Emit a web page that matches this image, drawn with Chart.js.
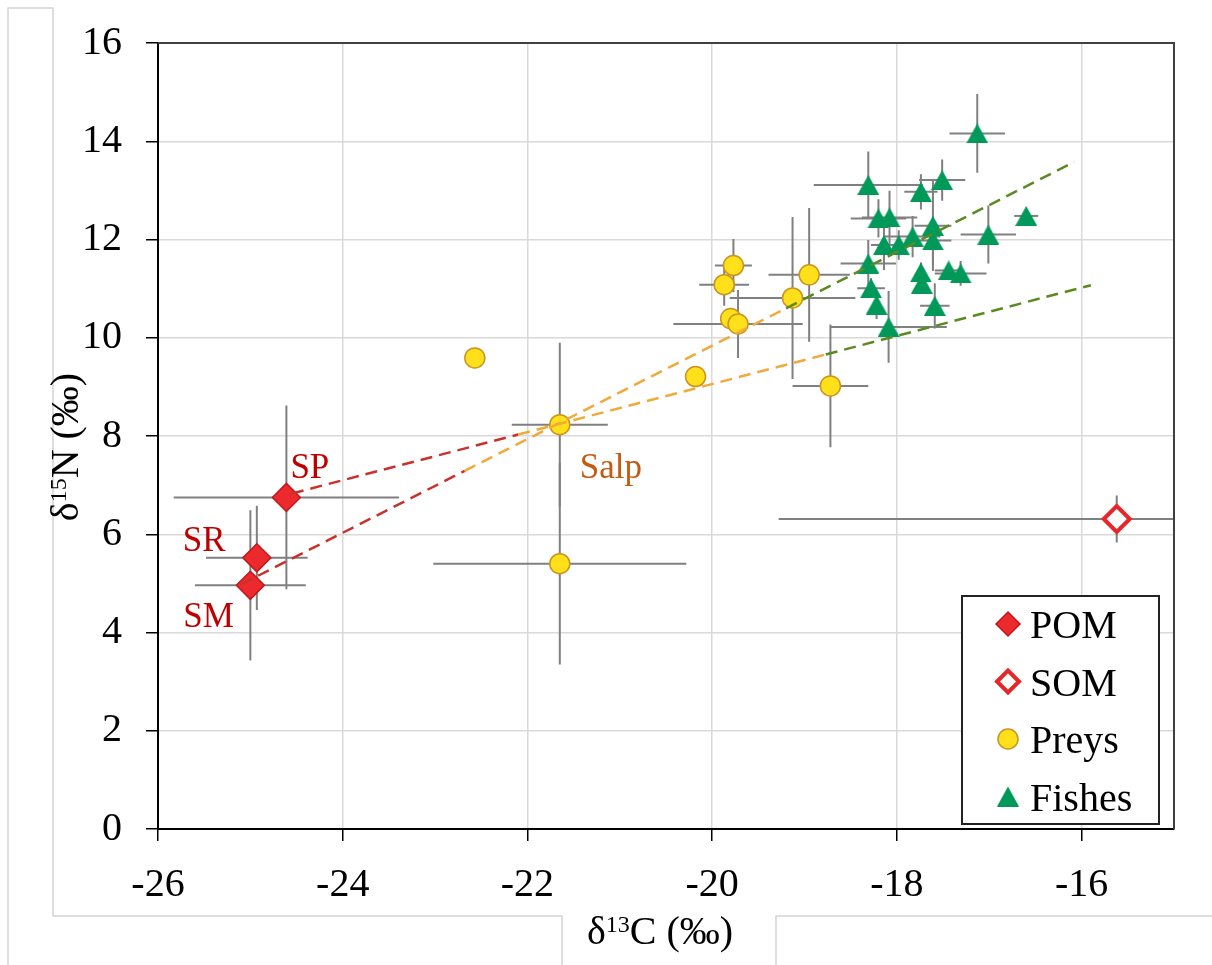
<!DOCTYPE html>
<html>
<head>
<meta charset="utf-8">
<title>δ13C / δ15N</title>
<script src="https://cdn.jsdelivr.net/npm/chart.js"></script>
<style>
  html, body { margin: 0; padding: 0; background: #fff; }
  #wrap { position: relative; width: 1212px; height: 965px; }
</style>
</head>
<body>
<div id="wrap"><canvas id="myChart"></canvas></div>
<script>
// axis ticks
const xTicks = [-26, -24, -22, -20, -18, -16];
const yTicks = [0, 2, 4, 6, 8, 10, 12, 14, 16];

// POM (SP, SR, SM)
const pomNames = ['SP', 'SR', 'SM'];
const pomX = [-24.61, -24.93, -25.00];
const pomY = [6.75, 5.52, 4.96];
const pomXErr = [1.22, 0.55, 0.60];
const pomYErr = [1.87, 1.06, 1.53];

// SOM
const somX = [-15.62];
const somY = [6.31];
const somXErr = [3.66];
const somYErr = [0.48];

// Preys (second one is Salp)
const preyX = [-22.57, -21.65, -21.65, -19.77, -19.87, -19.80, -19.72, -19.13, -18.95, -20.18, -18.72];
const preyY = [9.59, 8.23, 5.40, 11.47, 11.08, 10.39, 10.28, 10.81, 11.28, 9.21, 9.02];
const preyXErr = [0, 0.52, 1.37, 0.20, 0.27, 0, 0.70, 0.68, 0.44, 0, 0.41];
const preyYErr = [0, 1.67, 2.05, 0.54, 0.43, 0, 0.69, 1.65, 1.36, 0, 1.25];

// Fishes
const fishX = [-17.13, -18.31, -17.51, -17.74, -18.20, -18.08, -17.61, -16.60, -17.01, -17.83, -17.61,
               -18.14, -17.98, -18.31, -17.74, -17.44, -17.31, -17.73, -18.28, -18.22, -17.59, -18.09];
const fishY = [14.16, 13.11, 13.21, 12.97, 12.43, 12.45, 12.28, 12.48, 12.10, 12.06, 11.98,
               11.89, 11.89, 11.51, 11.33, 11.37, 11.31, 11.10, 11.01, 10.67, 10.65, 10.22];
const fishXErr = [0.30, 0.59, 0.25, 0.18, 0.30, 0.30, 0.20, 0.13, 0.30, 0.30, 0.20,
                  0.14, 0.25, 0.30, 0, 0.15, 0.28, 0, 0.15, 0, 0.16, 0.63];
const fishYErr = [0.80, 0.68, 0.42, 0.36, 0.39, 0.54, 0.92, 0, 0.59, 0.42, 0.50,
                  0.51, 0.30, 0.48, 0.20, 0, 0.25, 0.15, 0.20, 0.29, 0.46, 0.73];

// dashed lines, broken where the colour changes (POM -> preys -> fishes)
const lineAX = [-25.10, -22.68, -19.20, -16.08];
const lineAY = [4.98, 7.29, 10.60, 13.58];
const lineBX = [-24.55, -22.10, -18.77, -15.90];
const lineBY = [6.83, 8.03, 9.66, 11.07];
const lineColors = ['#c9312b', '#f0aa3a', '#5a8a22'];

const SERIF = '"Liberation Serif", "Times New Roman", serif';
const pts = (xs, ys) => xs.map((x, i) => ({ x: x, y: ys[i] }));

function makeTriangle(w, h, color) {
  const c = document.createElement('canvas');
  c.width = w; c.height = h;
  const g = c.getContext('2d');
  g.fillStyle = color;
  g.beginPath();
  g.moveTo(w / 2, 0);
  g.lineTo(w, h);
  g.lineTo(0, h);
  g.closePath();
  g.fill();
  return c;
}
const fishMarker = makeTriangle(22, 20, '#00995a');

// error bars, under the markers
const errorBars = {
  id: 'errorBars',
  beforeDatasetsDraw(chart) {
    const { ctx, chartArea: a } = chart;
    const xs = chart.scales.x, ys = chart.scales.y;
    ctx.save();
    ctx.beginPath();
    ctx.rect(a.left, a.top, a.right - a.left, a.bottom - a.top);
    ctx.clip();
    ctx.strokeStyle = '#808080';
    ctx.lineWidth = 2;
    chart.data.datasets.forEach(ds => {
      if (!ds.xErr) return;
      ds.data.forEach((p, i) => {
        const px = xs.getPixelForValue(p.x), py = ys.getPixelForValue(p.y);
        const ex = ds.xErr[i], ey = ds.yErr[i];
        ctx.beginPath();
        if (ex) {
          ctx.moveTo(xs.getPixelForValue(p.x - ex), py);
          ctx.lineTo(xs.getPixelForValue(p.x + ex), py);
        }
        if (ey) {
          ctx.moveTo(px, ys.getPixelForValue(p.y - ey));
          ctx.lineTo(px, ys.getPixelForValue(p.y + ey));
        }
        ctx.stroke();
      });
    });
    ctx.restore();
  }
};

function drawTitle(ctx, parts, cx, cy, rotate) {
  ctx.save();
  ctx.translate(cx, cy);
  if (rotate) ctx.rotate(-Math.PI / 2);
  ctx.fillStyle = '#000';
  ctx.textBaseline = 'alphabetic';
  ctx.textAlign = 'left';
  let total = 0;
  parts.forEach(p => { ctx.font = p[1] + 'px ' + SERIF; total += ctx.measureText(p[0]).width; });
  let x = -total / 2;
  parts.forEach(p => {
    ctx.font = p[1] + 'px ' + SERIF;
    ctx.fillText(p[0], x, 13 - p[2]);
    x += ctx.measureText(p[0]).width;
  });
  ctx.restore();
}

// frame, axis titles, point labels and legend
const decorations = {
  id: 'decorations',
  beforeDraw(chart) {
    const ctx = chart.ctx;
    ctx.save();
    ctx.strokeStyle = '#d4d4d4';
    ctx.lineWidth = 1.5;
    ctx.beginPath();
    ctx.moveTo(8, 965); ctx.lineTo(8, 8); ctx.lineTo(53, 8); ctx.lineTo(53, 916); ctx.lineTo(562, 916); ctx.lineTo(562, 965);
    ctx.moveTo(776, 965); ctx.lineTo(776, 916); ctx.lineTo(1212, 916);
    ctx.stroke();
    ctx.restore();
  },
  afterDatasetsDraw(chart) {
    const { ctx, chartArea: a } = chart;
    const xs = chart.scales.x, ys = chart.scales.y;
    ctx.save();
    // top and right frame
    ctx.strokeStyle = '#404040';
    ctx.lineWidth = 2;
    ctx.beginPath();
    ctx.moveTo(a.left, a.top); ctx.lineTo(a.right, a.top); ctx.lineTo(a.right, a.bottom);
    ctx.stroke();

    // point labels
    ctx.font = '35px ' + SERIF;
    ctx.textBaseline = 'alphabetic';
    ctx.textAlign = 'left';
    const offs = [[4, -19], [-74, -7], [-67, 42]];
    ctx.fillStyle = '#c00000';
    pomNames.forEach((n, i) => {
      ctx.fillText(n, xs.getPixelForValue(pomX[i]) + offs[i][0], ys.getPixelForValue(pomY[i]) + offs[i][1]);
    });
    ctx.fillStyle = '#c55a11';
    ctx.fillText('Salp', xs.getPixelForValue(preyX[1]) + 20, ys.getPixelForValue(preyY[1]) + 53);

    // legend
    const bw = 197, bh = 228;
    const bx = a.right - 15 - bw, by = a.bottom - 5 - bh;
    ctx.fillStyle = '#fff';
    ctx.fillRect(bx, by, bw, bh);
    ctx.strokeStyle = '#222';
    ctx.lineWidth = 2;
    ctx.strokeRect(bx, by, bw, bh);
    const items = [
      { label: 'POM', ds: 1, r: 12 },
      { label: 'SOM', ds: 2, r: 11 },
      { label: 'Preys', ds: 3, r: 10 },
      { label: 'Fishes', ds: 4, r: 10 }
    ];
    items.forEach((it, k) => {
      const ds = chart.data.datasets[it.ds];
      const cy = by + 28 + k * 57.5;
      const mx = bx + 46;
      ctx.save();
      ctx.fillStyle = ds.pointBackgroundColor;
      ctx.strokeStyle = ds.pointBorderColor;
      ctx.lineWidth = ds.pointBorderWidth;
      Chart.helpers.drawPoint(ctx, { pointStyle: ds.pointStyle, radius: it.r, rotation: 0, borderWidth: ds.pointBorderWidth }, mx, cy);
      ctx.restore();
      ctx.fillStyle = '#000';
      ctx.font = '40px ' + SERIF;
      ctx.fillText(it.label, bx + 68, cy + 14);
    });

    // axis titles
    drawTitle(ctx, [['δ', 40, 0], ['13', 24, 12], ['C (‰)', 40, 0]], 660, 931, false);
    drawTitle(ctx, [['δ', 40, 0], ['15', 24, 12], ['N (‰)', 40, 0]], 65, 447, true);
    ctx.restore();
  }
};

const lineDs = (xs, ys) => ({
  data: pts(xs, ys),
  showLine: true,
  pointRadius: 0,
  borderWidth: 2.5,
  borderDash: [12, 7],
  borderColor: lineColors[0],
  segment: { borderColor: c => lineColors[c.p0DataIndex] },
  order: 0
});

new Chart(document.getElementById('myChart'), {
  type: 'scatter',
  data: {
    datasets: [
      lineDs(lineAX, lineAY),
      {
        label: 'POM', data: pts(pomX, pomY), xErr: pomXErr, yErr: pomYErr,
        pointStyle: 'rectRot', pointRadius: 14, pointBackgroundColor: '#ec2a2d',
        pointBorderColor: '#c4161c', pointBorderWidth: 1.5, order: 1
      },
      {
        label: 'SOM', data: pts(somX, somY), xErr: somXErr, yErr: somYErr,
        pointStyle: 'rectRot', pointRadius: 13, pointBackgroundColor: '#ffffff',
        pointBorderColor: '#e8262a', pointBorderWidth: 4, order: 1
      },
      {
        label: 'Preys', data: pts(preyX, preyY), xErr: preyXErr, yErr: preyYErr,
        pointStyle: 'circle', pointRadius: 10, pointBackgroundColor: '#ffe01b',
        pointBorderColor: '#c9951f', pointBorderWidth: 1.5, order: 1
      },
      {
        label: 'Fishes', data: pts(fishX, fishY), xErr: fishXErr, yErr: fishYErr,
        pointStyle: fishMarker, pointRadius: 11, pointBackgroundColor: '#00995a',
        pointBorderColor: '#00995a', pointBorderWidth: 0, order: 1
      },
      lineDs(lineBX, lineBY)
    ]
  },
  options: {
    responsive: true,
    maintainAspectRatio: false,
    animation: false,
    layout: { padding: { top: 42, right: 38, left: 0, bottom: 0 } },
    plugins: { legend: { display: false }, tooltip: { enabled: false } },
    scales: {
      x: {
        type: 'linear', min: -26, max: -15,
        afterBuildTicks: s => { s.ticks = xTicks.map(v => ({ value: v })); },
        afterFit: s => { s.height = 136; },
        grid: { color: '#d9d9d9', lineWidth: 1.5, tickLength: 12, tickColor: '#000', tickWidth: 1.5 },
        border: { color: '#000', width: 2 },
        ticks: { color: '#000', font: { family: SERIF, size: 40 }, padding: 20, maxRotation: 0, autoSkip: false, callback: v => String(v) }
      },
      y: {
        type: 'linear', min: 0, max: 16,
        afterBuildTicks: s => { s.ticks = yTicks.map(v => ({ value: v })); },
        afterFit: s => { s.width = 158; },
        grid: { color: '#d9d9d9', lineWidth: 1.5, tickLength: 12, tickColor: '#000', tickWidth: 1.5 },
        border: { color: '#000', width: 2 },
        ticks: { color: '#000', font: { family: SERIF, size: 40, lineHeight: 0.95 }, padding: 24, autoSkip: false, callback: v => String(v) }
      }
    }
  },
  plugins: [errorBars, decorations]
});
</script>
</body>
</html>
